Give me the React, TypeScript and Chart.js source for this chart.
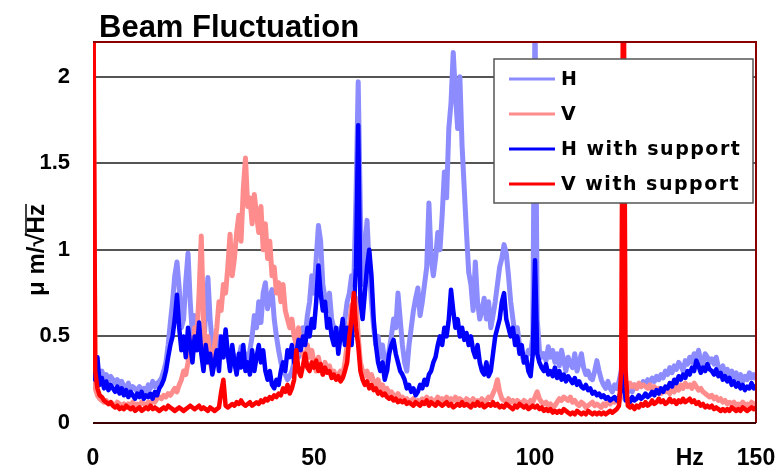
import React, { useEffect, useRef } from 'react';
import { Chart, registerables } from 'chart.js';

Chart.register(...registerables);

// Frequency grid: 0 .. 150 Hz, 0.5 Hz resolution (301 points)
const FREQ_STEP = 0.5;
const X_TICKS = [0, 50, 100, 135, 150];
const X_TICK_LABELS: Record<number, string> = { 0: '0', 50: '50', 100: '100', 135: 'Hz', 150: '150' };
const Y_TICKS = [0, 0.5, 1, 1.5, 2];
const Y_TICK_LABELS = ['0', '0.5', '1', '1.5', '2'];

const SERIES_NAMES = ['H', 'V', 'H with support', 'V with support'];

// H (no support)
const H_VALUES = [
  0.55, 0.32, 0.3, 0.27, 0.3, 0.26, 0.28, 0.24, 0.27, 0.25,
  0.23, 0.25, 0.22, 0.24, 0.21, 0.2, 0.23, 0.19, 0.21, 0.2,
  0.18, 0.21, 0.19, 0.2, 0.17, 0.22, 0.2, 0.24, 0.21, 0.23,
  0.24, 0.26, 0.3, 0.35, 0.45, 0.58, 0.7, 0.85, 0.93, 0.78,
  0.55, 0.6, 0.82, 0.98, 0.7, 0.5, 0.62, 0.45, 0.55, 0.5,
  0.4, 0.65, 0.84, 0.6, 0.45, 0.35, 0.4, 0.5, 0.42, 0.38,
  0.45, 0.4, 0.32, 0.42, 0.36, 0.3, 0.38, 0.44, 0.35, 0.4,
  0.33, 0.42, 0.5, 0.62, 0.55, 0.7, 0.58, 0.75, 0.81, 0.66,
  0.72, 0.77, 0.6, 0.5, 0.42, 0.35, 0.3, 0.28, 0.25, 0.27,
  0.3, 0.35, 0.4, 0.38, 0.45, 0.55, 0.5, 0.62, 0.7, 0.85,
  0.75, 0.95, 1.14, 1.05, 0.8, 0.72, 0.65, 0.75, 0.6, 0.55,
  0.5, 0.45, 0.55, 0.48, 0.6, 0.7, 0.75, 0.85, 0.8, 1.3,
  1.97, 1.2, 0.8, 1.0, 1.17, 0.9, 0.7, 0.55, 0.45, 0.5,
  0.38, 0.45, 0.35, 0.3, 0.42, 0.5, 0.6, 0.55, 0.75, 0.6,
  0.45, 0.35, 0.3, 0.45, 0.55, 0.65, 0.72, 0.78, 0.62, 0.7,
  0.8, 0.9, 1.27, 0.95, 0.85, 0.95, 1.1, 1.0, 1.2, 1.45,
  1.3, 1.7, 1.85, 2.14, 1.9, 1.7, 2.0, 1.6, 1.35, 1.1,
  0.87, 0.8, 0.65, 0.93, 0.7, 0.6, 0.65, 0.72, 0.6, 0.7,
  0.55, 0.62, 0.7, 0.8, 0.9, 0.95, 1.03, 0.98, 0.85, 0.7,
  0.6, 0.5, 0.55, 0.45, 0.4, 0.35, 0.38, 0.42, 0.4, 0.5,
  2.4, 0.6, 0.42, 0.38, 0.4, 0.36, 0.44, 0.38, 0.42, 0.35,
  0.4, 0.33, 0.42, 0.36, 0.3, 0.38, 0.34, 0.32, 0.4, 0.3,
  0.35, 0.4, 0.32, 0.28, 0.3, 0.26, 0.25, 0.3, 0.36, 0.3,
  0.25, 0.22, 0.2, 0.24, 0.2, 0.18, 0.22, 0.2, 0.24, 0.3,
  0.5, 0.2, 0.18, 0.2, 0.18, 0.22, 0.2, 0.22, 0.21, 0.24,
  0.22, 0.25, 0.23, 0.26, 0.24, 0.27, 0.25, 0.28, 0.26, 0.3,
  0.28, 0.32, 0.29, 0.33, 0.31, 0.35, 0.33, 0.3, 0.36, 0.34,
  0.38, 0.35, 0.4, 0.37, 0.42, 0.36, 0.34, 0.4, 0.38, 0.35,
  0.37, 0.34, 0.38, 0.32, 0.3, 0.33, 0.28, 0.31, 0.27, 0.3,
  0.26, 0.29, 0.25, 0.28, 0.24, 0.27, 0.25, 0.29, 0.26, 0.28,
  0.25,
];

// V (no support)
const V_VALUES = [
  2.3, 0.2, 0.16, 0.14, 0.13, 0.12, 0.13, 0.11, 0.12, 0.11,
  0.1, 0.12, 0.11, 0.1, 0.11, 0.09, 0.11, 0.1, 0.12, 0.1,
  0.11, 0.1, 0.12, 0.11, 0.1, 0.12, 0.11, 0.13, 0.12, 0.14,
  0.15, 0.14, 0.16, 0.15, 0.17, 0.16, 0.18, 0.2, 0.18, 0.22,
  0.25, 0.3, 0.28, 0.35, 0.45, 0.4, 0.55, 0.5, 0.75, 1.08,
  0.6, 0.4, 0.5, 0.35, 0.3, 0.45, 0.55, 0.7, 0.65, 0.8,
  0.75, 0.9, 1.09, 0.85, 0.95, 1.1, 1.2, 1.05, 1.35, 1.53,
  1.25, 1.3, 1.15, 1.32, 1.2, 1.1, 1.25, 1.0, 1.15, 0.95,
  1.05, 0.85, 0.9, 0.75, 0.81, 0.7, 0.8, 0.65, 0.6, 0.55,
  0.6, 0.5, 0.45, 0.55, 0.42, 0.4, 0.35, 0.45, 0.38, 0.42,
  0.35, 0.3, 0.38, 0.32, 0.28, 0.35, 0.3, 0.33, 0.28, 0.3,
  0.26, 0.28, 0.3, 0.27, 0.35, 0.45, 0.55, 0.68, 0.6, 0.72,
  0.5, 0.35, 0.3, 0.27, 0.3, 0.25, 0.28, 0.24, 0.22, 0.25,
  0.2, 0.22, 0.19, 0.2, 0.17, 0.18, 0.16, 0.15, 0.17, 0.14,
  0.15, 0.13, 0.14, 0.12, 0.13, 0.14, 0.12, 0.13, 0.11, 0.14,
  0.12, 0.15, 0.13, 0.14, 0.12, 0.13, 0.15, 0.12, 0.14, 0.13,
  0.15, 0.12, 0.14, 0.13, 0.15, 0.12, 0.14, 0.13, 0.12, 0.14,
  0.13, 0.12, 0.14, 0.12, 0.13, 0.12, 0.14, 0.12, 0.13, 0.15,
  0.14, 0.17, 0.2, 0.25, 0.18, 0.14, 0.13, 0.12, 0.14, 0.12,
  0.13, 0.11, 0.13, 0.12, 0.11, 0.13, 0.12, 0.11, 0.13, 0.12,
  0.15, 0.18, 0.14, 0.12, 0.11, 0.12, 0.1, 0.11, 0.09, 0.1,
  0.12, 0.14, 0.13, 0.15, 0.14, 0.13, 0.15, 0.12, 0.13, 0.11,
  0.1, 0.12, 0.11, 0.09, 0.1, 0.11, 0.12, 0.1, 0.11, 0.1,
  0.09, 0.11, 0.1, 0.12, 0.11, 0.13, 0.12, 0.14, 0.12, 0.15,
  0.2, 0.22, 0.2, 0.23, 0.21, 0.22, 0.2, 0.23, 0.21, 0.22,
  0.21, 0.2, 0.22, 0.19, 0.21, 0.18, 0.2, 0.17, 0.19, 0.18,
  0.19, 0.17, 0.2, 0.18, 0.21, 0.19, 0.22, 0.2, 0.23, 0.21,
  0.22, 0.2, 0.23, 0.21, 0.19, 0.2, 0.18, 0.17, 0.16, 0.15,
  0.16, 0.14, 0.15, 0.13, 0.14, 0.12, 0.13, 0.11, 0.12, 0.11,
  0.12, 0.1, 0.11, 0.1, 0.12, 0.1, 0.11, 0.1, 0.12, 0.11,
  0.1,
];

// H with support
const HS_VALUES = [
  0.54, 0.25, 0.38, 0.22, 0.26, 0.2, 0.24, 0.19, 0.22, 0.2,
  0.18, 0.21, 0.17, 0.2, 0.16, 0.19, 0.15, 0.18, 0.16, 0.14,
  0.17, 0.15, 0.18, 0.14, 0.16, 0.15, 0.17, 0.14, 0.18, 0.16,
  0.2, 0.22, 0.25, 0.3, 0.38, 0.45, 0.5, 0.6, 0.74, 0.55,
  0.42, 0.5, 0.38, 0.55, 0.45, 0.35, 0.5, 0.42, 0.58, 0.4,
  0.3, 0.45, 0.35, 0.4, 0.28, 0.35, 0.42, 0.3, 0.5, 0.38,
  0.54, 0.4, 0.3, 0.45, 0.35, 0.28, 0.4, 0.32, 0.45, 0.3,
  0.35, 0.28, 0.42, 0.3, 0.38, 0.45, 0.35, 0.42, 0.3, 0.25,
  0.3, 0.22, 0.2, 0.25, 0.22, 0.3, 0.35, 0.3, 0.42, 0.38,
  0.45, 0.35, 0.4, 0.48, 0.42, 0.5, 0.45, 0.55, 0.5, 0.6,
  0.55, 0.7, 0.91, 0.75, 0.65, 0.7, 0.55, 0.6, 0.5, 0.45,
  0.55, 0.4, 0.5, 0.6, 0.45, 0.55, 0.5, 0.45, 0.65, 0.9,
  1.72, 0.7, 0.6, 0.75, 0.9, 1.0, 0.85, 0.6, 0.45, 0.35,
  0.3, 0.35, 0.25, 0.3, 0.4, 0.45, 0.48, 0.4, 0.35, 0.3,
  0.28, 0.25, 0.2, 0.22, 0.18, 0.2, 0.16, 0.18, 0.22, 0.2,
  0.25, 0.22, 0.28, 0.3, 0.35, 0.38, 0.45, 0.5, 0.45, 0.55,
  0.5, 0.6, 0.77, 0.65, 0.55, 0.6, 0.5, 0.55, 0.48, 0.52,
  0.45, 0.5, 0.42, 0.38, 0.45, 0.35, 0.3, 0.28, 0.35, 0.27,
  0.3, 0.4, 0.5, 0.55, 0.6, 0.7, 0.75, 0.6, 0.55, 0.5,
  0.55, 0.45, 0.5, 0.4, 0.45, 0.35, 0.38, 0.3, 0.27, 0.4,
  0.94, 0.4, 0.35, 0.32, 0.3, 0.34, 0.28, 0.3, 0.27, 0.32,
  0.26, 0.3, 0.25, 0.28, 0.24, 0.27, 0.25, 0.23, 0.26, 0.22,
  0.24, 0.21, 0.2, 0.22, 0.19, 0.2, 0.17, 0.18, 0.16, 0.17,
  0.15, 0.16, 0.14, 0.15, 0.13, 0.14, 0.15, 0.13, 0.14, 0.2,
  0.3, 0.13, 0.14, 0.12, 0.15, 0.13, 0.14, 0.16, 0.14, 0.15,
  0.17, 0.15, 0.16, 0.18, 0.16, 0.19, 0.17, 0.2, 0.18, 0.21,
  0.2, 0.23, 0.21, 0.25, 0.23, 0.27, 0.25, 0.28, 0.26, 0.3,
  0.28, 0.32, 0.3, 0.36, 0.33, 0.29, 0.32, 0.3, 0.34, 0.31,
  0.3, 0.28, 0.31, 0.27, 0.29, 0.25, 0.27, 0.24, 0.26, 0.22,
  0.24, 0.21, 0.23, 0.2, 0.22, 0.19, 0.21, 0.2, 0.23, 0.2,
  0.22,
];

// V with support
const VS_VALUES = [
  3.0, 0.3, 0.2, 0.16, 0.15, 0.13, 0.12, 0.11, 0.12, 0.1,
  0.09, 0.1, 0.08, 0.09, 0.08, 0.1, 0.09, 0.08, 0.09, 0.07,
  0.08, 0.09, 0.07, 0.08, 0.09, 0.08, 0.1, 0.08, 0.09, 0.08,
  0.07, 0.08, 0.09, 0.08, 0.1, 0.09, 0.08, 0.07, 0.08, 0.09,
  0.08, 0.07, 0.08, 0.09, 0.1, 0.09, 0.08, 0.09, 0.1, 0.08,
  0.09, 0.08, 0.07, 0.09, 0.08, 0.07, 0.08, 0.09, 0.18, 0.25,
  0.1, 0.09, 0.1, 0.11, 0.1, 0.12, 0.11, 0.13, 0.11, 0.1,
  0.11, 0.12, 0.1, 0.11, 0.12, 0.11, 0.13, 0.12, 0.14, 0.13,
  0.15, 0.14, 0.16, 0.15, 0.17, 0.16, 0.2, 0.18, 0.22, 0.17,
  0.2, 0.25, 0.42, 0.3, 0.27, 0.33, 0.4, 0.32, 0.3, 0.35,
  0.32, 0.36, 0.3, 0.34, 0.28, 0.32, 0.29, 0.3, 0.26, 0.28,
  0.25, 0.27, 0.24, 0.26, 0.3, 0.35, 0.5, 0.6, 0.75, 0.55,
  0.45, 0.3, 0.25, 0.22, 0.24, 0.2, 0.22, 0.19, 0.2, 0.17,
  0.18, 0.16, 0.17, 0.15, 0.14, 0.15, 0.13, 0.14, 0.12, 0.13,
  0.12, 0.13, 0.11, 0.12, 0.11, 0.1, 0.12, 0.11, 0.1, 0.12,
  0.11, 0.13, 0.1, 0.12, 0.11, 0.1, 0.12, 0.11, 0.1, 0.11,
  0.12, 0.1, 0.11, 0.09, 0.1, 0.11, 0.1, 0.12, 0.1, 0.11,
  0.1, 0.09, 0.11, 0.1, 0.12, 0.1, 0.11, 0.09, 0.1, 0.11,
  0.1, 0.12, 0.1, 0.11, 0.09, 0.1, 0.09, 0.11, 0.1, 0.09,
  0.08, 0.1, 0.09, 0.11, 0.1, 0.09, 0.1, 0.08, 0.09, 0.1,
  0.09, 0.1, 0.08, 0.09, 0.07, 0.08, 0.07, 0.08, 0.06, 0.07,
  0.06, 0.07, 0.06, 0.08, 0.07, 0.06, 0.05, 0.06, 0.05, 0.07,
  0.06, 0.05, 0.06, 0.05, 0.07, 0.06, 0.05, 0.06, 0.05, 0.06,
  0.05, 0.06, 0.05, 0.06, 0.07, 0.06, 0.07, 0.08, 0.1, 0.3,
  3.0, 0.3, 0.1, 0.09, 0.1, 0.08, 0.1, 0.09, 0.11, 0.1,
  0.12, 0.1, 0.11, 0.13, 0.11, 0.12, 0.14, 0.12, 0.13, 0.11,
  0.12, 0.14, 0.12, 0.13, 0.11, 0.13, 0.12, 0.14, 0.12, 0.13,
  0.14, 0.12, 0.13, 0.11, 0.12, 0.1, 0.11, 0.09, 0.1, 0.09,
  0.1, 0.08, 0.09, 0.08, 0.07, 0.08, 0.07, 0.08, 0.07, 0.09,
  0.08, 0.07, 0.08, 0.07, 0.09, 0.08, 0.07, 0.08, 0.09, 0.08,
  0.09,
];

const COLORS = ['#8c8cff', '#ff8c8c', '#0000ff', '#ff0000'];
const LINE_WIDTHS = [5, 5, 4.5, 4.5];
const DRAW_ORDER = [3, 2, 1, 0];
const SERIES = [H_VALUES, V_VALUES, HS_VALUES, VS_VALUES];

const SANS = "'Liberation Sans', Arial, sans-serif";

const decorPlugin = {
  id: 'decor',
  afterDatasetsDraw(chart: any) {
    const { ctx, chartArea } = chart;
    const { left, right, top, bottom } = chartArea;
    ctx.save();
    // plot frame
    ctx.strokeStyle = '#8a0000';
    ctx.lineWidth = 2;
    ctx.beginPath();
    ctx.moveTo(left, top);
    ctx.lineTo(right, top);
    ctx.lineTo(right, bottom);
    ctx.stroke();
    ctx.strokeStyle = '#3a0000';
    ctx.beginPath();
    ctx.moveTo(left, bottom);
    ctx.lineTo(right, bottom);
    ctx.stroke();

    // legend box
    const bx = 494, by = 59, bw = 259, bh = 144;
    ctx.fillStyle = '#ffffff';
    ctx.fillRect(bx, by, bw, bh);
    ctx.strokeStyle = '#555555';
    ctx.lineWidth = 1.5;
    ctx.strokeRect(bx, by, bw, bh);
    ctx.font = "bold 19px 'DejaVu Sans', sans-serif";
    (ctx as any).letterSpacing = '1.5px';
    ctx.textBaseline = 'middle';
    ctx.textAlign = 'left';
    SERIES_NAMES.forEach((name, i) => {
      const y = 79 + i * 35;
      ctx.strokeStyle = COLORS[i];
      ctx.lineWidth = 3;
      ctx.beginPath();
      ctx.moveTo(509, y);
      ctx.lineTo(555, y);
      ctx.stroke();
      ctx.fillStyle = '#000';
      ctx.fillText(name, 561, y + 1);
    });
    (ctx as any).letterSpacing = '0px';

    // chart title
    ctx.font = `bold 31px ${SANS}`;
    ctx.textBaseline = 'alphabetic';
    ctx.textAlign = 'left';
    ctx.fillStyle = '#000';
    ctx.fillText('Beam Fluctuation', 99, 37);

    // y axis title: "μ m/√Hz" with radical overbar
    ctx.translate(37, 250);
    ctx.rotate(-Math.PI / 2);
    ctx.font = `bold 24px ${SANS}`;
    ctx.textBaseline = 'middle';
    const part1 = '\u03bc m/\u221a';
    const part2 = 'Hz';
    const w1 = ctx.measureText(part1).width;
    const w2 = ctx.measureText(part2).width;
    const x0 = -(w1 + w2) / 2;
    ctx.fillText(part1, x0, 0);
    ctx.fillText(part2, x0 + w1, 0);
    ctx.lineWidth = 1.5;
    ctx.strokeStyle = '#000';
    ctx.beginPath();
    ctx.moveTo(x0 + w1 - 2, -11);
    ctx.lineTo(x0 + w1 + w2, -11);
    ctx.stroke();
    ctx.restore();
  },
};

export default function App() {
  const canvasRef = useRef<HTMLCanvasElement | null>(null);

  useEffect(() => {
    const canvas = canvasRef.current;
    if (!canvas) return;
    const datasets = SERIES.map((values, i) => ({
      label: SERIES_NAMES[i],
      data: values.map((y, k) => ({ x: k * FREQ_STEP, y })),
      borderColor: COLORS[i],
      backgroundColor: COLORS[i],
      borderWidth: LINE_WIDTHS[i],
      pointRadius: 0,
      tension: 0,
      borderJoinStyle: 'round' as const,
      order: DRAW_ORDER[i],
    }));
    const chart = new Chart(canvas, {
      type: 'line',
      data: { datasets },
      options: {
        animation: false,
        responsive: false,
        maintainAspectRatio: false,
        layout: { padding: { top: 42, right: 26, left: 0, bottom: 0 } },
        plugins: { legend: { display: false }, tooltip: { enabled: false }, title: { display: false } },
        scales: {
          x: {
            type: 'linear',
            min: 0,
            max: 150,
            grid: { display: false, drawTicks: false },
            border: { display: false },
            ticks: {
              font: { family: SANS, size: 23, weight: 'bold' },
              color: '#000',
              padding: 22,
              maxRotation: 0,
              autoSkip: false,
              callback: (v: any) => X_TICK_LABELS[v as number] ?? '',
            },
            afterBuildTicks: (s: any) => {
              s.ticks = X_TICKS.map((value) => ({ value }));
            },
            afterFit: (s: any) => {
              s.height = 47;
              s.paddingLeft = 0;
              s.paddingRight = 0;
            },
          },
          y: {
            min: 0,
            max: 2.2,
            grid: { color: '#555555', lineWidth: 2, drawTicks: false },
            border: { display: false },
            ticks: {
              font: { family: SANS, size: 22, weight: 'bold' },
              color: '#000',
              padding: 23,
              callback: (v: any) => {
                const idx = Y_TICKS.indexOf(v as number);
                return idx >= 0 ? Y_TICK_LABELS[idx] : '';
              },
            },
            afterBuildTicks: (s: any) => {
              s.ticks = Y_TICKS.map((value) => ({ value }));
            },
            afterFit: (s: any) => {
              s.width = 93;
              s.paddingTop = 0;
              s.paddingBottom = 0;
            },
          },
        },
      },
      plugins: [decorPlugin],
    });
    return () => chart.destroy();
  }, []);

  return (
    <div style={{ position: 'absolute', left: 0, top: 0, width: 782, height: 470, background: '#fff' }}>
      <canvas ref={canvasRef} width={782} height={470} style={{ width: 782, height: 470 }} />
    </div>
  );
}
